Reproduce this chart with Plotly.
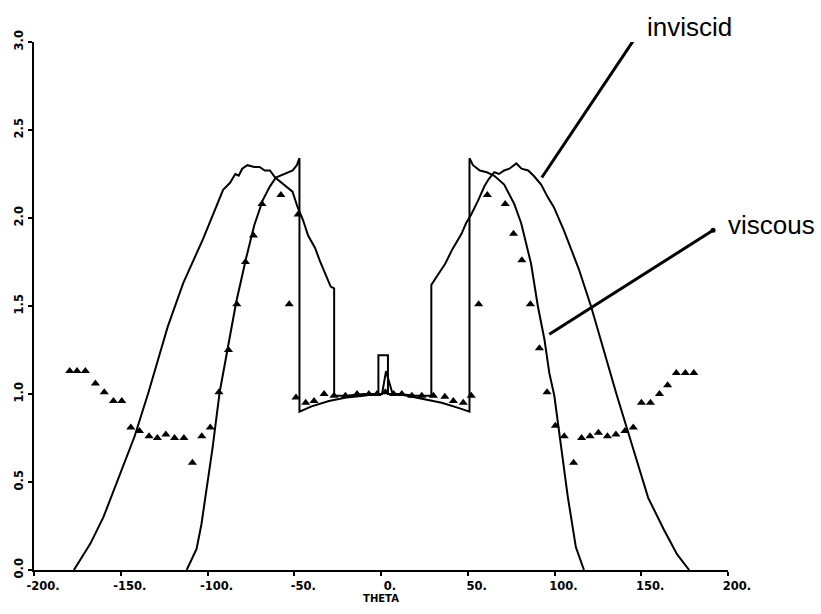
import plotly.graph_objects as go

# ---- data ----
# inviscid (wide) curve
inv_x = [-177, -167.5, -160, -154, -142, -134, -123, -114, -102.6, -91, -87, -84, -82, -80, -77, -73,
         -70, -67, -64, -61, -56, -51, -48, -45, -42, -38, -35, -32, -29, -27, -27,
         -20, -10, -1.5, -1.5, 4, 4, 10, 20, 29, 29,
         33, 37, 41, 44, 46.4, 49, 52, 56, 59.6, 62, 65.3, 68, 71, 74, 78, 81, 84.8, 88, 92.3,
         96, 99.7, 105.4, 109, 114, 121, 127.6, 136, 145, 154, 163, 170.6, 177.6]
inv_y = [0.0, 0.15, 0.30, 0.45, 0.76, 1.01, 1.38, 1.63, 1.88, 2.16, 2.20, 2.25, 2.24, 2.28, 2.30, 2.29,
         2.29, 2.27, 2.27, 2.23, 2.19, 2.15, 2.06, 1.99, 1.90, 1.83, 1.75, 1.68, 1.61, 1.60, 0.99,
         0.99, 1.0, 1.0, 1.22, 1.22, 1.0, 1.0, 0.99, 0.99, 1.62,
         1.68, 1.74, 1.82, 1.87, 1.91, 1.97, 2.02, 2.10, 2.18, 2.22, 2.26, 2.25, 2.27, 2.28, 2.31, 2.28, 2.27, 2.24, 2.19,
         2.12, 2.06, 1.93, 1.84, 1.71, 1.50, 1.27, 0.99, 0.70, 0.41, 0.23, 0.09, 0.0]

# viscous (narrow) curve
vis_x = [-112, -106.3, -103.5, -100.7, -97, -93, -88.2, -83.5, -77.8, -73, -68.2, -64, -60.6, -55.5,
         -50.9, -48.5, -47, -47, -40, -30, -20, -10, -4, 0.6, 2.9, 6.7, 10, 15, 25, 35, 45, 51, 51,
         53, 57, 61, 65.3, 71, 76.8, 80.8, 86.5, 90.4, 94.2, 97, 99.9, 103.7, 107.6, 112.3, 117]
vis_y = [0.0, 0.12, 0.26, 0.45, 0.70, 1.01, 1.26, 1.52, 1.77, 1.96, 2.10, 2.18, 2.23, 2.25,
         2.27, 2.30, 2.34, 0.90, 0.93, 0.96, 0.98, 0.99, 1.0, 1.0, 1.13, 1.0, 1.0, 0.99, 0.97, 0.95, 0.92, 0.90, 2.34,
         2.30, 2.27, 2.26, 2.24, 2.19, 2.08, 1.97, 1.74, 1.50, 1.31, 1.12, 0.99, 0.70, 0.42, 0.13, 0.0]

# experimental points (triangles)
exp_x = [-179.4, -175.2, -170.4, -164.6, -159.5, -154.2, -149.4, -144.2, -139.2, -133.7, -128.9, -124, -119,
         -113.6, -108.7, -103.3, -98.4, -93.4, -87.9, -83.1, -78.1, -73.5, -68.6, -57.7, -52.9, -47.8,
         -49, -43.4, -38.6, -32.8, -27.1, -20.5, -13.8, -7, -2.3, 2.5, 7.3, 12, 17.8, 23.5, 30.2, 36.8,
         41.7, 47.4, 52,
         56.3, 61.3, 71.6, 76.4, 81.2, 86.1, 91.3, 95.7, 100.5, 105.6, 111, 115.6, 120.5, 125.3, 130.5,
         135.4, 140.6, 145.4, 150.1, 155.3, 160.5, 165.2, 170.2, 175.4, 180.3]
exp_y = [1.13, 1.13, 1.13, 1.06, 1.01, 0.96, 0.96, 0.81, 0.79, 0.76, 0.75, 0.77, 0.75,
         0.75, 0.61, 0.76, 0.81, 1.01, 1.25, 1.51, 1.75, 1.90, 2.08, 2.13, 1.51, 2.02,
         0.98, 0.95, 0.96, 1.0, 0.99, 0.99, 1.0, 1.0, 1.0, 1.01, 1.0, 1.0, 0.99, 0.99, 0.99, 0.985,
         0.96, 0.95, 0.99,
         1.51, 2.13, 2.08, 1.91, 1.76, 1.51, 1.26, 1.01, 0.82, 0.76, 0.61, 0.75, 0.76, 0.78, 0.76,
         0.77, 0.79, 0.81, 0.95, 0.95, 1.00, 1.05, 1.12, 1.12, 1.12]

x_ticks = [-200, -150, -100, -50, 0, 50, 100, 150, 200]
x_ticktext = ["-200.", "-150.", "-100.", "-50.", "0.", "50.", "100.", "150.", "200."]
y_ticks = [0, 0.5, 1.0, 1.5, 2.0, 2.5, 3.0]
y_ticktext = ["0.0", "0.5", "1.0", "1.5", "2.0", "2.5", "3.0"]

# labels (paper coords) and their leader lines (data coords)
labels = ["inviscid", "viscous"]
label_pos = [(0.944, 1.028), (1.063, 0.654)]
leader = [((92.7, 2.23), (145.6, 3.01)), ((97, 1.34), (191.4, 1.93))]

fig = go.Figure()
fig.add_trace(go.Scatter(x=inv_x, y=inv_y, mode="lines",
                         line=dict(color="black", width=2), showlegend=False, cliponaxis=False))
fig.add_trace(go.Scatter(x=vis_x, y=vis_y, mode="lines",
                         line=dict(color="black", width=2), showlegend=False, cliponaxis=False))
fig.add_trace(go.Scatter(x=exp_x, y=exp_y, mode="markers",
                         marker=dict(symbol="triangle-up", size=8, color="black"),
                         showlegend=False, cliponaxis=False))

for (p0, p1) in leader:
    fig.add_shape(type="line", xref="x", yref="y", x0=p0[0], y0=p0[1], x1=p1[0], y1=p1[1],
                  line=dict(color="black", width=3))
    fig.add_trace(go.Scatter(x=[p1[0]], y=[p1[1]], mode="markers",
                             marker=dict(symbol="circle", size=5, color="black"),
                             showlegend=False, cliponaxis=False))
for t, (lx, ly) in zip(labels, label_pos):
    fig.add_annotation(x=lx, y=ly, xref="paper", yref="paper", text=t, showarrow=False,
                       xanchor="center", yanchor="middle",
                       font=dict(family="Liberation Sans, Arial, sans-serif", size=26, color="black"))

tickfont = dict(family="DejaVu Sans", size=11.5, color="black", weight="bold")
fig.update_layout(
    width=821, height=614,
    margin=dict(l=30, r=93, t=42, b=37),
    paper_bgcolor="white", plot_bgcolor="white",
    xaxis=dict(range=[-200, 200], tickvals=x_ticks, ticktext=x_ticktext,
               showgrid=False, zeroline=False, showline=True, linecolor="black", linewidth=2,
               ticks="outside", ticklen=4, tickwidth=2, tickcolor="black",
               tickfont=tickfont, ticklabelshift=9,
               title=dict(text="THETA", standoff=2,
                          font=dict(family="DejaVu Sans", size=10, color="black", weight="bold"))),
    yaxis=dict(range=[0, 3], tickvals=y_ticks, ticktext=y_ticktext, tickangle=-90,
               showgrid=False, zeroline=False, showline=True, linecolor="black", linewidth=2,
               ticks="outside", ticklen=4, tickwidth=2, tickcolor="black",
               tickfont=tickfont),
)

fig.write_html("out.html")
